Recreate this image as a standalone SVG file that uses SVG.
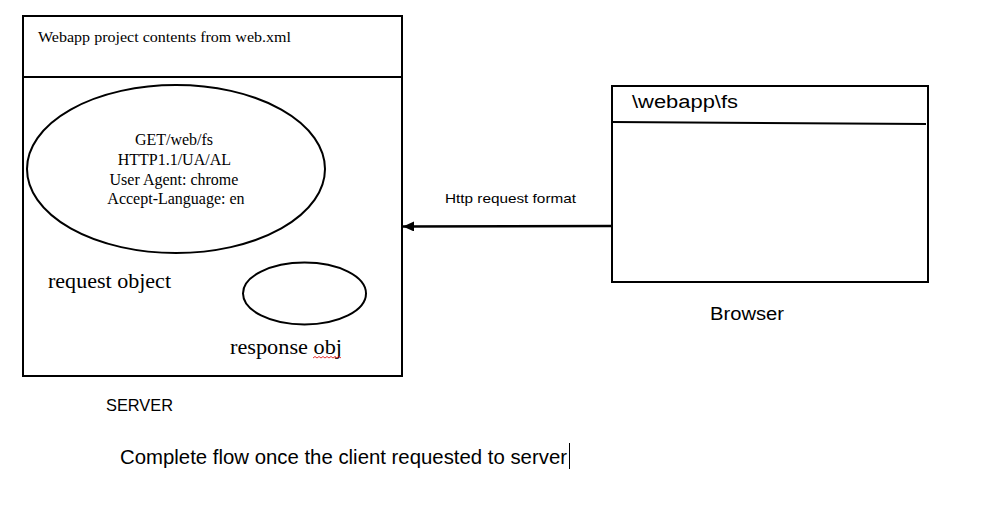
<svg xmlns="http://www.w3.org/2000/svg" width="1004" height="522" viewBox="0 0 1004 522">
<style>
.box{fill:none;stroke:#000;stroke-width:2}
.serif{font-family:"Liberation Serif","Times New Roman",serif;fill:#000}
.sans{font-family:"Liberation Sans",Arial,sans-serif;fill:#000}
.conn{stroke:#000;stroke-width:2.5;fill:none}
</style>
<defs>
<marker id="ah" markerWidth="12" markerHeight="10" refX="11" refY="5" orient="auto" markerUnits="userSpaceOnUse">
<path d="M0,0 L11,5 L0,10 z" fill="#000"/>
</marker>
</defs>
<rect width="1004" height="522" fill="#fff"/>
<g id="server">
<rect class="box" x="23" y="16" width="379" height="360"/>
<line class="box" x1="23" y1="77" x2="402" y2="77"/>
<text class="serif" x="38" y="42" font-size="14" textLength="253" lengthAdjust="spacingAndGlyphs">Webapp project contents from web.xml</text>
</g>
<g id="request-ellipse">
<ellipse class="box" cx="176" cy="169" rx="149" ry="84"/>
<text class="serif" font-size="16" text-anchor="middle">
<tspan x="176" y="145">GET/web/fs</tspan>
<tspan x="176" y="165">HTTP1.1/UA/AL</tspan>
<tspan x="176" y="185">User Agent: chrome</tspan>
<tspan x="176" y="204">Accept-Language: en</tspan>
</text>
</g>
<text id="request-object" class="serif" x="48" y="288" font-size="21" textLength="123" lengthAdjust="spacingAndGlyphs">request object</text>
<g id="response-ellipse">
<ellipse class="box" cx="304.5" cy="293.5" rx="61.5" ry="31"/>
</g>
<g id="response-label">
<text class="serif" x="230" y="354" font-size="21" textLength="112" lengthAdjust="spacingAndGlyphs">response obj</text>
<path d="M313,358 l2,-1.5 l2,1.5 l2,-1.5 l2,1.5 l2,-1.5 l2,1.5 l2,-1.5 l2,1.5 l2,-1.5 l2,1.5 l2,-1.5 l2,1.5 l2,-1.5 l2,1.5" fill="none" stroke="#d00" stroke-width="0.8"/>
</g>
<g id="browser">
<rect class="box" x="612" y="86" width="316" height="196"/>
<line class="box" x1="612" y1="122" x2="926" y2="124"/>
<text class="sans" x="632" y="108" font-size="18" textLength="106" lengthAdjust="spacingAndGlyphs">\webapp\fs</text>
</g>
<g id="connectors">
<line class="conn" x1="611" y1="226" x2="403" y2="226.5" marker-end="url(#ah)"/>
</g>
<text class="sans" x="445" y="203" font-size="13" textLength="131" lengthAdjust="spacingAndGlyphs">Http request format</text>
<text class="sans" x="710" y="320" font-size="18" textLength="74" lengthAdjust="spacingAndGlyphs">Browser</text>
<text class="sans" x="106" y="411" font-size="17" textLength="67" lengthAdjust="spacingAndGlyphs">SERVER</text>
<text class="sans" x="120" y="464" font-size="20" textLength="447" lengthAdjust="spacingAndGlyphs">Complete flow once the client requested to server</text>
<line x1="569.5" y1="443" x2="569.5" y2="469" stroke="#000" stroke-width="1"/>
</svg>
